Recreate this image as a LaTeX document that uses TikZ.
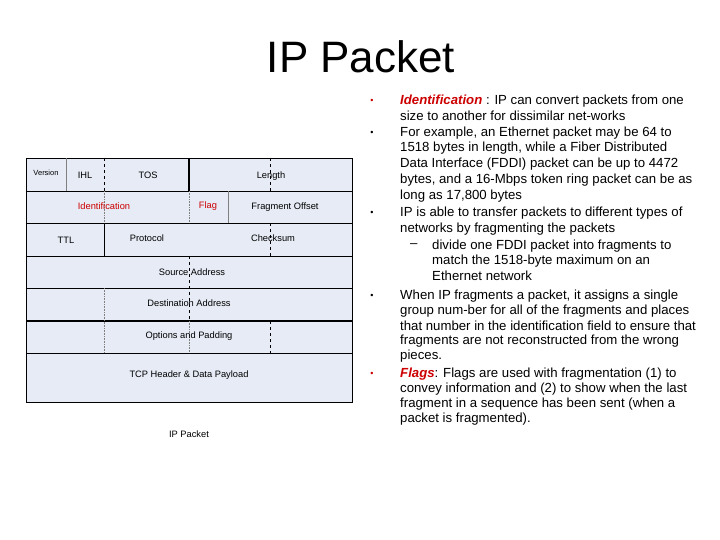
\documentclass[tikz,border=0pt]{standalone}
\usepackage{fontspec}
\setmainfont{Liberation Sans}
\definecolor{cellfill}{HTML}{E6EBF5}
\definecolor{hdred}{HTML}{CC0000}
\begin{document}
\begin{tikzpicture}[x=1pt,y=-1pt,
  cell/.style={font=\fontsize{9.3}{11}\selectfont},
  body/.style={anchor=west,inner sep=0pt,font=\fontsize{13.2}{15}\selectfont},
  bul/.style={inner sep=0pt,font=\fontsize{9}{10}\selectfont},
  dsh/.style={dashed,line width=0.6pt},
  dtt/.style={densely dotted,line width=0.6pt,gray}]
\useasboundingbox (0,0) rectangle (720,540);
\node (title) at (361,57) {\fontsize{44}{48}\selectfont IP Packet};
% table
\fill[cellfill] (26,158) rectangle (352,402);
\foreach \yy in {191,223,256,288,353} \draw[line width=0.8pt] (26,\yy) -- (352,\yy);
\draw[line width=1.6pt] (26,321) -- (352,321);
\draw[line width=0.9pt] (26,158) rectangle (352,402);
\draw[gray,line width=0.8pt] (66,158) -- (66,191);
\draw[line width=1.2pt] (189,158) -- (189,191);
\draw[gray,line width=0.9pt] (228,191) -- (228,223);
\draw[line width=1pt] (104,223) -- (104,256);
\draw[dsh] (104,158) -- (104,191);
\draw[dtt] (104,191) -- (104,223);
\draw[dtt] (104,288) -- (104,353);
\draw[dtt] (189,191) -- (189,223);
\draw[dsh,line width=1pt] (189,256) -- (189,321);
\draw[dtt] (189,321) -- (189,353);
\draw[dsh] (270,158) -- (270,191);
\draw[dsh] (270,223) -- (270,256);
\draw[dsh] (270,321) -- (270,353);
\node[cell,font=\fontsize{7.5}{8}\selectfont] (ver) at (46,173) {Version};
\node[cell] (ihl) at (85,175) {IHL};
\node[cell] (tos) at (148,175) {TOS};
\node[cell] (len) at (271,176) {Length};
\node[cell,text=hdred] (ident) at (104,206) {Identification};
\node[cell,text=hdred] (flag) at (208,206) {Flag};
\node[cell] (frag) at (285,207) {Fragment Offset};
\node[cell] (ttl) at (66,240) {TTL};
\node[cell] (proto) at (147,238) {Protocol};
\node[cell] (chk) at (273,238) {Checksum};
\node[cell] (src) at (192,272) {Source Address};
\node[cell] (dst) at (189,303) {Destination Address};
\node[cell] (opt) at (189,336) {Options and Padding};
\node[cell] (tcp) at (189,375) {TCP Header \& Data Payload};
\node[cell] (cap) at (189,434) {IP Packet};
% text
\node[bul,text=hdred] (b1) at (372,101) {\textbullet};
\node[bul] (b2) at (372,133) {\textbullet};
\node[bul] (b3) at (372,213) {\textbullet};
\node[bul] (b4) at (372,296) {\textbullet};
\node[bul,text=hdred] (b5) at (372,374) {\textbullet};
\node[body] (l1) at (400,101) {\textcolor{hdred}{\textbf{\textit{Identification}}} : IP can convert packets from one};
\node[body] (l2) at (400,116) {size to another for dissimilar net-works};
\node[body] (l3) at (400,133) {For example, an Ethernet packet may be 64 to};
\node[body] (l4) at (400,148) {1518 bytes in length, while a Fiber Distributed};
\node[body] (l5) at (400,164) {Data Interface (FDDI) packet can be up to 4472};
\node[body] (l6) at (400,180) {bytes, and a 16-Mbps token ring packet can be as};
\node[body] (l7) at (400,196) {long as 17,800 bytes};
\node[body] (l8) at (400,213) {IP is able to transfer packets to different types of};
\node[body] (l9) at (400,229) {networks by fragmenting the packets};
\node[body] (d1) at (410,246) {--};
\node[body] (l10) at (432,246) {divide one FDDI packet into fragments to};
\node[body] (l11) at (432,261) {match the 1518-byte maximum on an};
\node[body] (l12) at (432,276) {Ethernet network};
\node[body] (l13) at (400,296) {When IP fragments a packet, it assigns a single};
\node[body] (l14) at (400,311) {group num-ber for all of the fragments and places};
\node[body] (l15) at (400,326) {that number in the identification field to ensure that};
\node[body] (l16) at (400,341) {fragments are not reconstructed from the wrong};
\node[body] (l17) at (400,356) {pieces.};
\node[body] (l18) at (400,374) {\textcolor{hdred}{\textbf{\textit{Flags}}}: Flags are used with fragmentation (1) to};
\node[body] (l19) at (400,389) {convey information and (2) to show when the last};
\node[body] (l20) at (400,404) {fragment in a sequence has been sent (when a};
\node[body] (l21) at (400,419) {packet is fragmented).};
\end{tikzpicture}
\end{document}
